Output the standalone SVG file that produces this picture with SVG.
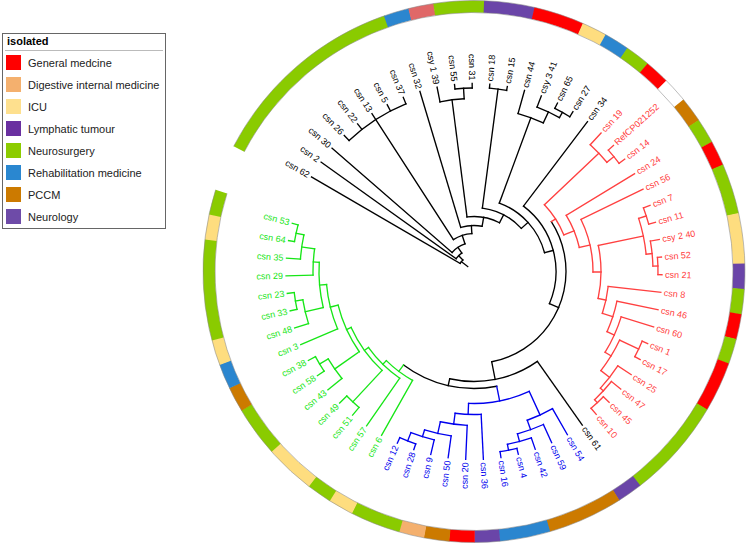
<svg xmlns="http://www.w3.org/2000/svg" width="746" height="544" viewBox="0 0 746 544">
<style>
.t path,.t circle{fill:none;stroke-width:1.35;stroke-linecap:square}
.k{stroke:#000}.r{stroke:#FF4040}.b{stroke:#0000EE}.g{stroke:#17E617}
.lb text{font-family:"Liberation Sans",Arial,sans-serif;font-size:9px;dominant-baseline:central}
.e{text-anchor:end}
.tk{fill:#000}.tr{fill:#FF4040}.tb{fill:#0000EE}.tg{fill:#17E617}
.ring circle{fill:none;stroke-width:12}
.lg text{font-family:"Liberation Sans",Arial,sans-serif;font-size:11px;fill:#222}
</style>
<rect width="746" height="544" fill="#fff"/>
<g transform="translate(474 271.5)">
<g id="ring" class="ring">
<circle r="265" pathLength="360" stroke="#8ACB00" stroke-dasharray="43.3 360" transform="rotate(207.51)"/>
<circle r="265" pathLength="360" stroke="#2B86CF" stroke-dasharray="5.5 360" transform="rotate(250.59)"/>
<circle r="265" pathLength="360" stroke="#E06868" stroke-dasharray="5.5 360" transform="rotate(255.97)"/>
<circle r="265" pathLength="360" stroke="#8ACB00" stroke-dasharray="10.9 360" transform="rotate(261.36)"/>
<circle r="265" pathLength="360" stroke="#6A45A8" stroke-dasharray="10.9 360" transform="rotate(272.13)"/>
<circle r="265" pathLength="360" stroke="#FF0000" stroke-dasharray="10.9 360" transform="rotate(282.90)"/>
<circle r="265" pathLength="360" stroke="#FEDD7F" stroke-dasharray="5.5 360" transform="rotate(293.67)"/>
<circle r="265" pathLength="360" stroke="#2B86CF" stroke-dasharray="5.5 360" transform="rotate(299.06)"/>
<circle r="265" pathLength="360" stroke="#8ACB00" stroke-dasharray="5.5 360" transform="rotate(304.44)"/>
<circle r="265" pathLength="360" stroke="#FF0000" stroke-dasharray="5.5 360" transform="rotate(309.83)"/>
<circle r="265" pathLength="360" stroke="#FFFFFF" stroke-dasharray="5.5 360" transform="rotate(315.21)"/>
<circle r="265" pathLength="360" stroke="#CC7A00" stroke-dasharray="5.5 360" transform="rotate(320.60)"/>
<circle r="265" pathLength="360" stroke="#8ACB00" stroke-dasharray="5.5 360" transform="rotate(325.98)"/>
<circle r="265" pathLength="360" stroke="#FF0000" stroke-dasharray="5.5 360" transform="rotate(331.37)"/>
<circle r="265" pathLength="360" stroke="#8ACB00" stroke-dasharray="10.9 360" transform="rotate(336.75)"/>
<circle r="265" pathLength="360" stroke="#FEDD7F" stroke-dasharray="10.9 360" transform="rotate(347.52)"/>
<circle r="265" pathLength="360" stroke="#6A45A8" stroke-dasharray="5.5 360" transform="rotate(358.29)"/>
<circle r="265" pathLength="360" stroke="#8ACB00" stroke-dasharray="5.5 360" transform="rotate(363.68)"/>
<circle r="265" pathLength="360" stroke="#FF0000" stroke-dasharray="5.5 360" transform="rotate(369.06)"/>
<circle r="265" pathLength="360" stroke="#8ACB00" stroke-dasharray="5.5 360" transform="rotate(374.45)"/>
<circle r="265" pathLength="360" stroke="#FF0000" stroke-dasharray="10.9 360" transform="rotate(379.83)"/>
<circle r="265" pathLength="360" stroke="#8ACB00" stroke-dasharray="21.7 360" transform="rotate(390.60)"/>
<circle r="265" pathLength="360" stroke="#6A45A8" stroke-dasharray="5.5 360" transform="rotate(412.14)"/>
<circle r="265" pathLength="360" stroke="#CC7A00" stroke-dasharray="16.3 360" transform="rotate(417.53)"/>
<circle r="265" pathLength="360" stroke="#2B86CF" stroke-dasharray="10.9 360" transform="rotate(433.68)"/>
<circle r="265" pathLength="360" stroke="#6A45A8" stroke-dasharray="5.5 360" transform="rotate(444.45)"/>
<circle r="265" pathLength="360" stroke="#FF0000" stroke-dasharray="5.5 360" transform="rotate(449.84)"/>
<circle r="265" pathLength="360" stroke="#CC7A00" stroke-dasharray="5.5 360" transform="rotate(455.22)"/>
<circle r="265" pathLength="360" stroke="#F4B06E" stroke-dasharray="5.5 360" transform="rotate(460.61)"/>
<circle r="265" pathLength="360" stroke="#8ACB00" stroke-dasharray="10.9 360" transform="rotate(465.99)"/>
<circle r="265" pathLength="360" stroke="#FEDD7F" stroke-dasharray="5.5 360" transform="rotate(476.76)"/>
<circle r="265" pathLength="360" stroke="#8ACB00" stroke-dasharray="5.5 360" transform="rotate(482.15)"/>
<circle r="265" pathLength="360" stroke="#FEDD7F" stroke-dasharray="10.9 360" transform="rotate(487.53)"/>
<circle r="265" pathLength="360" stroke="#8ACB00" stroke-dasharray="10.9 360" transform="rotate(498.30)"/>
<circle r="265" pathLength="360" stroke="#CC7A00" stroke-dasharray="5.5 360" transform="rotate(509.07)"/>
<circle r="265" pathLength="360" stroke="#2B86CF" stroke-dasharray="5.5 360" transform="rotate(514.46)"/>
<circle r="265" pathLength="360" stroke="#FEDD7F" stroke-dasharray="5.5 360" transform="rotate(519.84)"/>
<circle r="265" pathLength="360" stroke="#8ACB00" stroke-dasharray="21.7 360" transform="rotate(525.23)"/>
<circle r="265" pathLength="360" stroke="#FEDD7F" stroke-dasharray="5.5 360" transform="rotate(546.77)"/>
<circle r="265" pathLength="360" stroke="#8ACB00" stroke-dasharray="5.39 360" transform="rotate(552.15)"/>
<circle r="271" pathLength="360" style="stroke:#888;stroke-width:0.5" stroke-dasharray="350.03 360" transform="rotate(207.51)"/>
<circle r="259" pathLength="360" style="stroke:#888;stroke-width:0.5" stroke-dasharray="350.03 360" transform="rotate(207.51)"/>
</g>
<g id="connectors" class="t">
<g class="k">
<path d="M8 0H16" transform="rotate(218.12)"/>
<circle r="16" pathLength="360" stroke-dasharray="15.83 360" transform="rotate(210.2)"/>
<path d="M16 0H188" transform="rotate(210.2)"/>
<path d="M16 0H22" transform="rotate(226.03)"/>
<circle r="22" pathLength="360" stroke-dasharray="20.86 360" transform="rotate(215.59)"/>
<path d="M22 0H188" transform="rotate(215.59)"/>
<path d="M22 0H29" transform="rotate(236.45)"/>
<circle r="29" pathLength="360" stroke-dasharray="30.96 360" transform="rotate(220.97)"/>
<path d="M29 0H188" transform="rotate(220.97)"/>
<path d="M29 0H38" transform="rotate(251.93)"/>
<circle r="38" pathLength="360" stroke-dasharray="29.61 360" transform="rotate(237.13)"/>
<path d="M38 0H188" transform="rotate(237.13)"/>
<circle r="181" pathLength="360" stroke-dasharray="21.54 360" transform="rotate(226.36)"/>
<path d="M181 0H188" transform="rotate(226.36)"/>
<path d="M181 0H188" transform="rotate(231.74)"/>
<path d="M181 0H188" transform="rotate(242.51)"/>
<path d="M181 0H188" transform="rotate(247.90)"/>
<path d="M38 0H46" transform="rotate(266.74)"/>
<circle r="46" pathLength="360" stroke-dasharray="26.87 360" transform="rotate(253.28)"/>
<path d="M46 0H188" transform="rotate(253.28)"/>
<path d="M46 0H55" transform="rotate(280.15)"/>
<circle r="55" pathLength="360" stroke-dasharray="34.90 360" transform="rotate(262.70)"/>
<path d="M55 0H173" transform="rotate(262.70)"/>
<circle r="173" pathLength="360" stroke-dasharray="8.07 360" transform="rotate(258.67)"/>
<path d="M173 0H188" transform="rotate(258.67)"/>
<path d="M173 0H183.5" transform="rotate(266.74)"/>
<circle r="183.5" pathLength="360" stroke-dasharray="5.39 360" transform="rotate(264.05)"/>
<path d="M183.5 0H188" transform="rotate(264.05)"/>
<path d="M183.5 0H188" transform="rotate(269.44)"/>
<path d="M55 0H64" transform="rotate(297.60)"/>
<circle r="64" pathLength="360" stroke-dasharray="40.17 360" transform="rotate(277.51)"/>
<path d="M64 0H184" transform="rotate(277.51)"/>
<circle r="184" pathLength="360" stroke-dasharray="5.39 360" transform="rotate(274.82)"/>
<path d="M184 0H188" transform="rotate(274.82)"/>
<path d="M184 0H188" transform="rotate(280.21)"/>
<path d="M64 0H73" transform="rotate(317.68)"/>
<circle r="73" pathLength="360" stroke-dasharray="54.79 360" transform="rotate(290.30)"/>
<path d="M73 0H164" transform="rotate(290.30)"/>
<circle r="164" pathLength="360" stroke-dasharray="9.42 360" transform="rotate(285.59)"/>
<path d="M164 0H188" transform="rotate(285.59)"/>
<path d="M164 0H176" transform="rotate(295.01)"/>
<circle r="176" pathLength="360" stroke-dasharray="8.07 360" transform="rotate(290.98)"/>
<path d="M176 0H188" transform="rotate(290.98)"/>
<path d="M176 0H182" transform="rotate(299.05)"/>
<circle r="182" pathLength="360" stroke-dasharray="5.39 360" transform="rotate(296.36)"/>
<path d="M182 0H188" transform="rotate(296.36)"/>
<path d="M182 0H188" transform="rotate(301.75)"/>
<path d="M73 0H82" transform="rotate(345.09)"/>
<circle r="82" pathLength="360" stroke-dasharray="75.93 360" transform="rotate(307.13)"/>
<path d="M82 0H188" transform="rotate(307.13)"/>
<path d="M82 0H92" transform="rotate(23.06)"/>
<circle r="92" pathLength="360" stroke-dasharray="111.69 360" transform="rotate(327.21)"/>
<path d="M92 0H110" transform="rotate(78.9)"/>
<circle r="110" pathLength="360" stroke-dasharray="47.93 360" transform="rotate(54.83)"/>
<path d="M110 0H188" transform="rotate(54.83)"/>
<path d="M110 0H117" transform="rotate(102.76)"/>
<circle r="117" pathLength="360" stroke-dasharray="48.2 360" transform="rotate(78.79)"/>
</g>
<g class="r">
<path d="M92 0H97" transform="rotate(327.21)"/>
<circle r="97" pathLength="360" stroke-dasharray="21.33 360" transform="rotate(316.55)"/>
<path d="M97 0H172" transform="rotate(316.55)"/>
<circle r="172" pathLength="360" stroke-dasharray="8.07 360" transform="rotate(312.52)"/>
<path d="M172 0H188" transform="rotate(312.52)"/>
<path d="M172 0H181" transform="rotate(320.59)"/>
<circle r="181" pathLength="360" stroke-dasharray="5.39 360" transform="rotate(317.90)"/>
<path d="M181 0H188" transform="rotate(317.90)"/>
<path d="M181 0H188" transform="rotate(323.29)"/>
<path d="M97 0H108" transform="rotate(337.88)"/>
<circle r="108" pathLength="360" stroke-dasharray="18.47 360" transform="rotate(328.67)"/>
<path d="M108 0H188" transform="rotate(328.67)"/>
<path d="M108 0H119" transform="rotate(347.14)"/>
<circle r="119" pathLength="360" stroke-dasharray="26.17 360" transform="rotate(334.06)"/>
<path d="M119 0H188" transform="rotate(334.06)"/>
<path d="M119 0H127" transform="rotate(0.23)"/>
<circle r="127" pathLength="360" stroke-dasharray="24.04 360" transform="rotate(348.19)"/>
<path d="M127 0H173" transform="rotate(348.19)"/>
<circle r="173" pathLength="360" stroke-dasharray="12.12 360" transform="rotate(342.13)"/>
<path d="M173 0H181" transform="rotate(342.13)"/>
<circle r="181" pathLength="360" stroke-dasharray="5.39 360" transform="rotate(339.44)"/>
<path d="M181 0H188" transform="rotate(339.44)"/>
<path d="M181 0H188" transform="rotate(344.83)"/>
<path d="M173 0H179" transform="rotate(354.25)"/>
<circle r="179" pathLength="360" stroke-dasharray="8.08 360" transform="rotate(350.21)"/>
<path d="M179 0H188" transform="rotate(350.21)"/>
<path d="M179 0H184" transform="rotate(358.29)"/>
<circle r="184" pathLength="360" stroke-dasharray="5.38 360" transform="rotate(355.60)"/>
<path d="M184 0H188" transform="rotate(355.60)"/>
<path d="M184 0H188" transform="rotate(0.98)"/>
<path d="M127 0H135" transform="rotate(12.23)"/>
<circle r="135" pathLength="360" stroke-dasharray="11.68 360" transform="rotate(6.37)"/>
<path d="M135 0H188" transform="rotate(6.37)"/>
<path d="M135 0H146" transform="rotate(18.05)"/>
<circle r="146" pathLength="360" stroke-dasharray="12.60 360" transform="rotate(11.75)"/>
<path d="M146 0H188" transform="rotate(11.75)"/>
<path d="M146 0H154" transform="rotate(24.35)"/>
<circle r="154" pathLength="360" stroke-dasharray="14.48 360" transform="rotate(17.14)"/>
<path d="M154 0H188" transform="rotate(17.14)"/>
<path d="M154 0H161" transform="rotate(31.62)"/>
<circle r="161" pathLength="360" stroke-dasharray="12.79 360" transform="rotate(25.21)"/>
<path d="M161 0H182" transform="rotate(25.21)"/>
<circle r="182" pathLength="360" stroke-dasharray="5.39 360" transform="rotate(22.52)"/>
<path d="M182 0H188" transform="rotate(22.52)"/>
<path d="M182 0H188" transform="rotate(27.91)"/>
<path d="M161 0H172" transform="rotate(38.0)"/>
<circle r="172" pathLength="360" stroke-dasharray="9.42 360" transform="rotate(33.29)"/>
<path d="M172 0H188" transform="rotate(33.29)"/>
<path d="M172 0H176" transform="rotate(42.71)"/>
<circle r="176" pathLength="360" stroke-dasharray="8.07 360" transform="rotate(38.68)"/>
<path d="M176 0H188" transform="rotate(38.68)"/>
<path d="M176 0H180" transform="rotate(46.75)"/>
<circle r="180" pathLength="360" stroke-dasharray="5.39 360" transform="rotate(44.06)"/>
<path d="M180 0H188" transform="rotate(44.06)"/>
<path d="M180 0H188" transform="rotate(49.45)"/>
</g>
<g class="b">
<path d="M117 0H132" transform="rotate(78.79)"/>
<circle r="132" pathLength="360" stroke-dasharray="27.08 360" transform="rotate(65.28)"/>
<path d="M132 0H158" transform="rotate(65.28)"/>
<circle r="158" pathLength="360" stroke-dasharray="10.09 360" transform="rotate(60.22)"/>
<path d="M158 0H188" transform="rotate(60.22)"/>
<path d="M158 0H168" transform="rotate(70.31)"/>
<circle r="168" pathLength="360" stroke-dasharray="9.42 360" transform="rotate(65.60)"/>
<path d="M168 0H188" transform="rotate(65.60)"/>
<path d="M168 0H176" transform="rotate(75.02)"/>
<circle r="176" pathLength="360" stroke-dasharray="8.07 360" transform="rotate(70.99)"/>
<path d="M176 0H188" transform="rotate(70.99)"/>
<path d="M176 0H182" transform="rotate(79.06)"/>
<circle r="182" pathLength="360" stroke-dasharray="5.39 360" transform="rotate(76.37)"/>
<path d="M182 0H188" transform="rotate(76.37)"/>
<path d="M182 0H188" transform="rotate(81.76)"/>
<path d="M132 0H143" transform="rotate(92.36)"/>
<circle r="143" pathLength="360" stroke-dasharray="10.45 360" transform="rotate(87.14)"/>
<path d="M143 0H188" transform="rotate(87.14)"/>
<path d="M143 0H154" transform="rotate(97.59)"/>
<circle r="154" pathLength="360" stroke-dasharray="10.09 360" transform="rotate(92.53)"/>
<path d="M154 0H188" transform="rotate(92.53)"/>
<path d="M154 0H166" transform="rotate(102.62)"/>
<circle r="166" pathLength="360" stroke-dasharray="9.42 360" transform="rotate(97.91)"/>
<path d="M166 0H188" transform="rotate(97.91)"/>
<path d="M166 0H173" transform="rotate(107.33)"/>
<circle r="173" pathLength="360" stroke-dasharray="8.07 360" transform="rotate(103.30)"/>
<path d="M173 0H188" transform="rotate(103.30)"/>
<path d="M173 0H182" transform="rotate(111.37)"/>
<circle r="182" pathLength="360" stroke-dasharray="5.39 360" transform="rotate(108.68)"/>
<path d="M182 0H188" transform="rotate(108.68)"/>
<path d="M182 0H188" transform="rotate(114.07)"/>
</g>
<g class="g">
<path d="M117 0H125" transform="rotate(126.99)"/>
<circle r="125" pathLength="360" stroke-dasharray="15.08 360" transform="rotate(119.45)"/>
<path d="M125 0H188" transform="rotate(119.45)"/>
<path d="M125 0H130" transform="rotate(134.53)"/>
<circle r="130" pathLength="360" stroke-dasharray="19.38 360" transform="rotate(124.84)"/>
<path d="M130 0H188" transform="rotate(124.84)"/>
<path d="M130 0H135" transform="rotate(144.22)"/>
<circle r="135" pathLength="360" stroke-dasharray="22.62 360" transform="rotate(132.91)"/>
<path d="M135 0H178" transform="rotate(132.91)"/>
<circle r="178" pathLength="360" stroke-dasharray="5.39 360" transform="rotate(130.22)"/>
<path d="M178 0H188" transform="rotate(130.22)"/>
<path d="M178 0H188" transform="rotate(135.61)"/>
<path d="M135 0H140" transform="rotate(155.53)"/>
<circle r="140" pathLength="360" stroke-dasharray="21.05 360" transform="rotate(145.03)"/>
<path d="M140 0H170" transform="rotate(145.03)"/>
<circle r="170" pathLength="360" stroke-dasharray="8.08 360" transform="rotate(140.99)"/>
<path d="M170 0H188" transform="rotate(140.99)"/>
<path d="M170 0H180" transform="rotate(149.07)"/>
<circle r="180" pathLength="360" stroke-dasharray="5.38 360" transform="rotate(146.38)"/>
<path d="M180 0H188" transform="rotate(146.38)"/>
<path d="M180 0H188" transform="rotate(151.76)"/>
<path d="M140 0H148" transform="rotate(166.08)"/>
<circle r="148" pathLength="360" stroke-dasharray="17.82 360" transform="rotate(157.15)"/>
<path d="M148 0H188" transform="rotate(157.15)"/>
<path d="M148 0H155" transform="rotate(174.97)"/>
<circle r="155" pathLength="360" stroke-dasharray="16.83 360" transform="rotate(166.57)"/>
<path d="M155 0H173.5" transform="rotate(166.57)"/>
<circle r="173.5" pathLength="360" stroke-dasharray="8.08 360" transform="rotate(162.53)"/>
<path d="M173.5 0H188" transform="rotate(162.53)"/>
<path d="M173.5 0H181" transform="rotate(170.61)"/>
<circle r="181" pathLength="360" stroke-dasharray="5.38 360" transform="rotate(167.92)"/>
<path d="M181 0H188" transform="rotate(167.92)"/>
<path d="M181 0H188" transform="rotate(173.30)"/>
<path d="M155 0H161" transform="rotate(183.40)"/>
<circle r="161" pathLength="360" stroke-dasharray="9.42 360" transform="rotate(178.69)"/>
<path d="M161 0H188" transform="rotate(178.69)"/>
<path d="M161 0H174" transform="rotate(188.11)"/>
<circle r="174" pathLength="360" stroke-dasharray="8.08 360" transform="rotate(184.07)"/>
<path d="M174 0H188" transform="rotate(184.07)"/>
<path d="M174 0H182" transform="rotate(192.15)"/>
<circle r="182" pathLength="360" stroke-dasharray="5.38 360" transform="rotate(189.46)"/>
<path d="M182 0H188" transform="rotate(189.46)"/>
<path d="M182 0H188" transform="rotate(194.84)"/>
</g>
</g>
<g class="lb">
<g id="tip-csn62"><text class="tk e" transform="rotate(210.2) translate(191 0) rotate(180)">csn 62</text></g>
<g id="tip-csn2"><text class="tk e" transform="rotate(215.59) translate(191 0) rotate(180)">csn 2</text></g>
<g id="tip-csn30"><text class="tk e" transform="rotate(220.97) translate(191 0) rotate(180)">csn 30</text></g>
<g id="tip-csn26"><text class="tk e" transform="rotate(226.36) translate(191 0) rotate(180)">csn 26</text></g>
<g id="tip-csn22"><text class="tk e" transform="rotate(231.74) translate(191 0) rotate(180)">csn 22</text></g>
<g id="tip-csn13"><text class="tk e" transform="rotate(237.13) translate(191 0) rotate(180)">csn 13</text></g>
<g id="tip-csn5"><text class="tk e" transform="rotate(242.51) translate(191 0) rotate(180)">csn 5</text></g>
<g id="tip-csn37"><text class="tk e" transform="rotate(247.90) translate(191 0) rotate(180)">csn 37</text></g>
<g id="tip-csn32"><text class="tk e" transform="rotate(253.28) translate(191 0) rotate(180)">csn 32</text></g>
<g id="tip-csy1-39"><text class="tk e" transform="rotate(258.67) translate(191 0) rotate(180)">csy 1 39</text></g>
<g id="tip-csn55"><text class="tk e" transform="rotate(264.05) translate(191 0) rotate(180)">csn 55</text></g>
<g id="tip-csn31"><text class="tk e" transform="rotate(269.44) translate(191 0) rotate(180)">csn 31</text></g>
<g id="tip-csn18"><text class="tk" transform="rotate(274.82) translate(191 0)">csn 18</text></g>
<g id="tip-csn15"><text class="tk" transform="rotate(280.21) translate(191 0)">csn 15</text></g>
<g id="tip-csn44"><text class="tk" transform="rotate(285.59) translate(191 0)">csn 44</text></g>
<g id="tip-csy3-41"><text class="tk" transform="rotate(290.98) translate(191 0)">csy 3 41</text></g>
<g id="tip-csn65"><text class="tk" transform="rotate(296.36) translate(191 0)">csn 65</text></g>
<g id="tip-csn27"><text class="tk" transform="rotate(301.75) translate(191 0)">csn 27</text></g>
<g id="tip-csn34"><text class="tk" transform="rotate(307.13) translate(191 0)">csn 34</text></g>
<g id="tip-csn19"><text class="tr" transform="rotate(312.52) translate(191 0)">csn 19</text></g>
<g id="tip-RefCP021252"><text class="tr" transform="rotate(317.90) translate(191 0)">RefCP021252</text></g>
<g id="tip-csn14"><text class="tr" transform="rotate(323.29) translate(191 0)">csn 14</text></g>
<g id="tip-csn24"><text class="tr" transform="rotate(328.67) translate(191 0)">csn 24</text></g>
<g id="tip-csn56"><text class="tr" transform="rotate(334.06) translate(191 0)">csn 56</text></g>
<g id="tip-csn7"><text class="tr" transform="rotate(339.44) translate(191 0)">csn 7</text></g>
<g id="tip-csn11"><text class="tr" transform="rotate(344.83) translate(191 0)">csn 11</text></g>
<g id="tip-csy2-40"><text class="tr" transform="rotate(350.21) translate(191 0)">csy 2 40</text></g>
<g id="tip-csn52"><text class="tr" transform="rotate(355.60) translate(191 0)">csn 52</text></g>
<g id="tip-csn21"><text class="tr" transform="rotate(0.98) translate(191 0)">csn 21</text></g>
<g id="tip-csn8"><text class="tr" transform="rotate(6.37) translate(191 0)">csn 8</text></g>
<g id="tip-csn46"><text class="tr" transform="rotate(11.75) translate(191 0)">csn 46</text></g>
<g id="tip-csn60"><text class="tr" transform="rotate(17.14) translate(191 0)">csn 60</text></g>
<g id="tip-csn1"><text class="tr" transform="rotate(22.52) translate(191 0)">csn 1</text></g>
<g id="tip-csn17"><text class="tr" transform="rotate(27.91) translate(191 0)">csn 17</text></g>
<g id="tip-csn25"><text class="tr" transform="rotate(33.29) translate(191 0)">csn 25</text></g>
<g id="tip-csn47"><text class="tr" transform="rotate(38.68) translate(191 0)">csn 47</text></g>
<g id="tip-csn45"><text class="tr" transform="rotate(44.06) translate(191 0)">csn 45</text></g>
<g id="tip-csn10"><text class="tr" transform="rotate(49.45) translate(191 0)">csn 10</text></g>
<g id="tip-csn61"><text class="tk" transform="rotate(54.83) translate(191 0)">csn 61</text></g>
<g id="tip-csn54"><text class="tb" transform="rotate(60.22) translate(191 0)">csn 54</text></g>
<g id="tip-csn59"><text class="tb" transform="rotate(65.60) translate(191 0)">csn 59</text></g>
<g id="tip-csn42"><text class="tb" transform="rotate(70.99) translate(191 0)">csn 42</text></g>
<g id="tip-csn4"><text class="tb" transform="rotate(76.37) translate(191 0)">csn 4</text></g>
<g id="tip-csn16"><text class="tb" transform="rotate(81.76) translate(191 0)">csn 16</text></g>
<g id="tip-csn36"><text class="tb" transform="rotate(87.14) translate(191 0)">csn 36</text></g>
<g id="tip-csn20"><text class="tb e" transform="rotate(92.53) translate(191 0) rotate(180)">csn 20</text></g>
<g id="tip-csn50"><text class="tb e" transform="rotate(97.91) translate(191 0) rotate(180)">csn 50</text></g>
<g id="tip-csn9"><text class="tb e" transform="rotate(103.30) translate(191 0) rotate(180)">csn 9</text></g>
<g id="tip-csn28"><text class="tb e" transform="rotate(108.68) translate(191 0) rotate(180)">csn 28</text></g>
<g id="tip-csn12"><text class="tb e" transform="rotate(114.07) translate(191 0) rotate(180)">csn 12</text></g>
<g id="tip-csn6"><text class="tg e" transform="rotate(119.45) translate(191 0) rotate(180)">csn 6</text></g>
<g id="tip-csn57"><text class="tg e" transform="rotate(124.84) translate(191 0) rotate(180)">csn 57</text></g>
<g id="tip-csn51"><text class="tg e" transform="rotate(130.22) translate(191 0) rotate(180)">csn 51</text></g>
<g id="tip-csn49"><text class="tg e" transform="rotate(135.61) translate(191 0) rotate(180)">csn 49</text></g>
<g id="tip-csn43"><text class="tg e" transform="rotate(140.99) translate(191 0) rotate(180)">csn 43</text></g>
<g id="tip-csn58"><text class="tg e" transform="rotate(146.38) translate(191 0) rotate(180)">csn 58</text></g>
<g id="tip-csn38"><text class="tg e" transform="rotate(151.76) translate(191 0) rotate(180)">csn 38</text></g>
<g id="tip-csn3"><text class="tg e" transform="rotate(157.15) translate(191 0) rotate(180)">csn 3</text></g>
<g id="tip-csn48"><text class="tg e" transform="rotate(162.53) translate(191 0) rotate(180)">csn 48</text></g>
<g id="tip-csn33"><text class="tg e" transform="rotate(167.92) translate(191 0) rotate(180)">csn 33</text></g>
<g id="tip-csn23"><text class="tg e" transform="rotate(173.30) translate(191 0) rotate(180)">csn 23</text></g>
<g id="tip-csn29"><text class="tg e" transform="rotate(178.69) translate(191 0) rotate(180)">csn 29</text></g>
<g id="tip-csn35"><text class="tg e" transform="rotate(184.07) translate(191 0) rotate(180)">csn 35</text></g>
<g id="tip-csn64"><text class="tg e" transform="rotate(189.46) translate(191 0) rotate(180)">csn 64</text></g>
<g id="tip-csn53"><text class="tg e" transform="rotate(194.84) translate(191 0) rotate(180)">csn 53</text></g>
</g>
</g>
<g id="legend" class="lg">
<rect x="2.5" y="33.5" width="163" height="195" fill="#fff" stroke="#666" stroke-width="1"/>
<text x="7" y="44.5" style="font-weight:bold;fill:#000">isolated</text>
<path d="M5 50.5H163" stroke="#bbb" stroke-width="1"/>
<g id="lg-general"><rect x="6" y="55" width="15" height="15" fill="#FF0000"/><text x="28" y="66.5">General medcine</text></g>
<g id="lg-digestive"><rect x="6" y="77" width="15" height="15" fill="#F4B06E"/><text x="28" y="88.5">Digestive internal medicine</text></g>
<g id="lg-icu"><rect x="6" y="99" width="15" height="15" fill="#FEE08E"/><text x="28" y="110.5">ICU</text></g>
<g id="lg-lymph"><rect x="6" y="121" width="15" height="15" fill="#6A30A0"/><text x="28" y="132.5">Lymphatic tumour</text></g>
<g id="lg-neurosurgery"><rect x="6" y="143" width="15" height="15" fill="#8CCC00"/><text x="28" y="154.5">Neurosurgery</text></g>
<g id="lg-rehab"><rect x="6" y="165" width="15" height="15" fill="#2A87D0"/><text x="28" y="176.5">Rehabilitation medicine</text></g>
<g id="lg-pccm"><rect x="6" y="187" width="15" height="15" fill="#CC7A00"/><text x="28" y="198.5">PCCM</text></g>
<g id="lg-neurology"><rect x="6" y="209" width="15" height="15" fill="#6E4BA8"/><text x="28" y="220.5">Neurology</text></g>
</g>
</svg>
